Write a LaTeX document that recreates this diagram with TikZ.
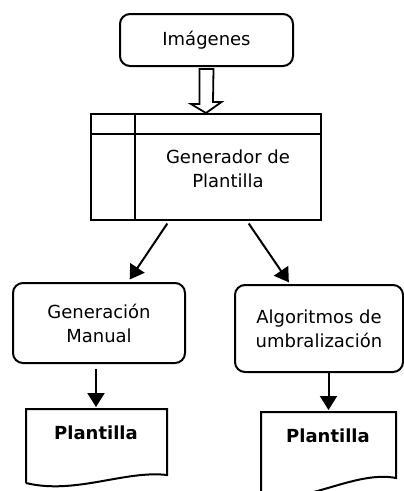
\documentclass[tikz,border=0pt]{standalone}
\usepackage{fontspec}
\setmainfont{DejaVu Sans}
\usetikzlibrary{arrows.meta,calc}

\begin{document}
\begin{tikzpicture}[x=1pt,y=-1pt,font=\fontsize{18}{24}\selectfont,>={Triangle[length=14pt,width=17pt]},procbox/.style={draw, line width=2pt, rounded corners=10pt, align=center},docline/.style={draw, line width=2pt},conn/.style={->, line width=2pt}]
\clip (0,0) rectangle (404,491);
\node[procbox, minimum width=173pt, minimum height=52pt] (img) at (206.5,40) {Imágenes};
\node[draw, line width=2pt, minimum width=230pt, minimum height=106pt] (gen) at (206,167) {};\draw[line width=2pt] ($(gen.north west)+(0,21)$) -- ($(gen.north east)+(0,21)$);\draw[line width=2pt] ($(gen.north west)+(45,0)$) -- ($(gen.south west)+(45,0)$);
\node[align=center] (gentext) at (228,169) {Generador de\\Plantilla};
\draw[line width=1.8pt] ($(img.south)+(-7,2)$) -- ++(0,35) -- ++(-8.5,0) -- (gen.north) -- ($(gen.north)+(15.5,-11)$) -- ++(-8.5,0) -- ($(img.south)+(7,2)$) -- cycle;
\node[procbox, minimum width=172pt, minimum height=80pt] (man) at (99,323) {Generación\\Manual};\node[procbox, minimum width=168pt, minimum height=87pt] (alg) at (319,328.5) {Algoritmos de\\umbralización};
\draw[conn, shorten <=3pt, shorten >=3pt] ([xshift=-37pt]gen.south) -- ([xshift=29pt]man.north);\draw[conn, shorten <=3pt, shorten >=2pt] ([xshift=41pt]gen.south) -- ([xshift=-29pt]alg.north);
% documents
\node[font=\fontsize{18}{24}\selectfont\bfseries] (doc1) at (96,433) {Plantilla};\coordinate (d1top) at (96,409);
\draw[docline] (26,483) -- (26,409) -- (167,409) -- (167,475) .. controls (125,470) and (75,495) .. (26,483);
\node[font=\fontsize{18}{24}\selectfont\bfseries] (doc2) at (328,436) {Plantilla};\coordinate (d2top) at (328.5,412);
\draw[docline] (261,497) -- (261,412) -- (396,412) -- (396,478) .. controls (355,470) and (305,505) .. (261,497);
\draw[conn, shorten <=5pt, shorten >=2pt] (man.south -| d1top) -- (d1top);\draw[conn, shorten >=2pt] (alg.south -| d2top) -- (d2top);
\end{tikzpicture}
\end{document}
